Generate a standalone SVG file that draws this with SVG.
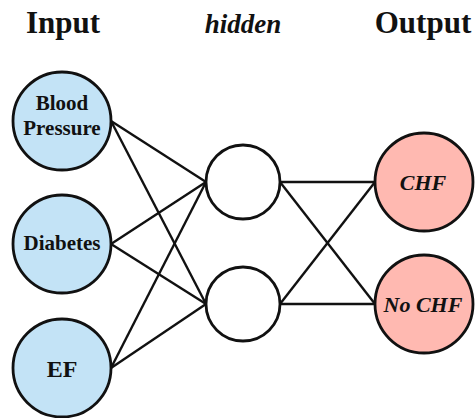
<svg xmlns="http://www.w3.org/2000/svg" width="476" height="418" viewBox="0 0 476 418">
  <style>
    .bg { fill: #ffffff; }
    .title { font-family: "Liberation Serif", "DejaVu Serif", serif; font-weight: bold; font-size: 31px; fill: #111111; text-anchor: middle; }
    .title-it { font-style: italic; font-size: 27px; }
    .node { stroke: #111111; stroke-width: 2.8; }
    .in { fill: #c3e3f6; }
    .hid { fill: #ffffff; }
    .out { fill: #ffb9b1; }
    .lbl { font-family: "Liberation Serif", "DejaVu Serif", serif; font-weight: bold; font-size: 21px; fill: #111111; text-anchor: middle; }
    .lbl-it { font-style: italic; font-size: 22px; }
    .edge { stroke: #111111; stroke-width: 2.4; fill: none; }
  </style>

  <rect class="bg" x="0" y="0" width="476" height="418"/>

  <!-- layer headings -->
  <g id="headings">
    <text class="title" x="63" y="33">Input</text>
    <text class="title title-it" x="243" y="33">hidden</text>
    <text class="title" x="423" y="33">Output</text>
  </g>

  <!-- weights between layers -->
  <g id="connectors">
    <line class="edge" x1="111" y1="121" x2="206" y2="182"/>
    <line class="edge" x1="111" y1="121" x2="206" y2="304"/>
    <line class="edge" x1="111" y1="244" x2="206" y2="182"/>
    <line class="edge" x1="111" y1="244" x2="206" y2="304"/>
    <line class="edge" x1="111" y1="368" x2="206" y2="182"/>
    <line class="edge" x1="111" y1="368" x2="206" y2="304"/>
    <line class="edge" x1="280" y1="182" x2="375" y2="182"/>
    <line class="edge" x1="280" y1="182" x2="375" y2="304"/>
    <line class="edge" x1="280" y1="304" x2="375" y2="182"/>
    <line class="edge" x1="280" y1="304" x2="375" y2="304"/>
  </g>

  <!-- input layer -->
  <g id="node-blood-pressure">
    <circle class="node in" cx="62" cy="121" r="49"/>
    <text class="lbl" x="62" y="110">Blood</text>
    <text class="lbl" x="62" y="135">Pressure</text>
  </g>
  <g id="node-diabetes">
    <circle class="node in" cx="62" cy="244" r="49"/>
    <text class="lbl" x="62" y="250">Diabetes</text>
  </g>
  <g id="node-ef">
    <circle class="node in" cx="62" cy="368" r="49"/>
    <text class="lbl" x="62" y="377" style="font-size:24px">EF</text>
  </g>

  <!-- hidden layer -->
  <g id="node-hidden-1">
    <circle class="node hid" cx="243" cy="182" r="37"/>
  </g>
  <g id="node-hidden-2">
    <circle class="node hid" cx="243" cy="304" r="37"/>
  </g>

  <!-- output layer -->
  <g id="node-chf">
    <circle class="node out" cx="424" cy="182" r="49"/>
    <text class="lbl lbl-it" x="423" y="190">CHF</text>
  </g>
  <g id="node-no-chf">
    <circle class="node out" cx="424" cy="304" r="49"/>
    <text class="lbl lbl-it" x="423" y="312">No CHF</text>
  </g>
</svg>
